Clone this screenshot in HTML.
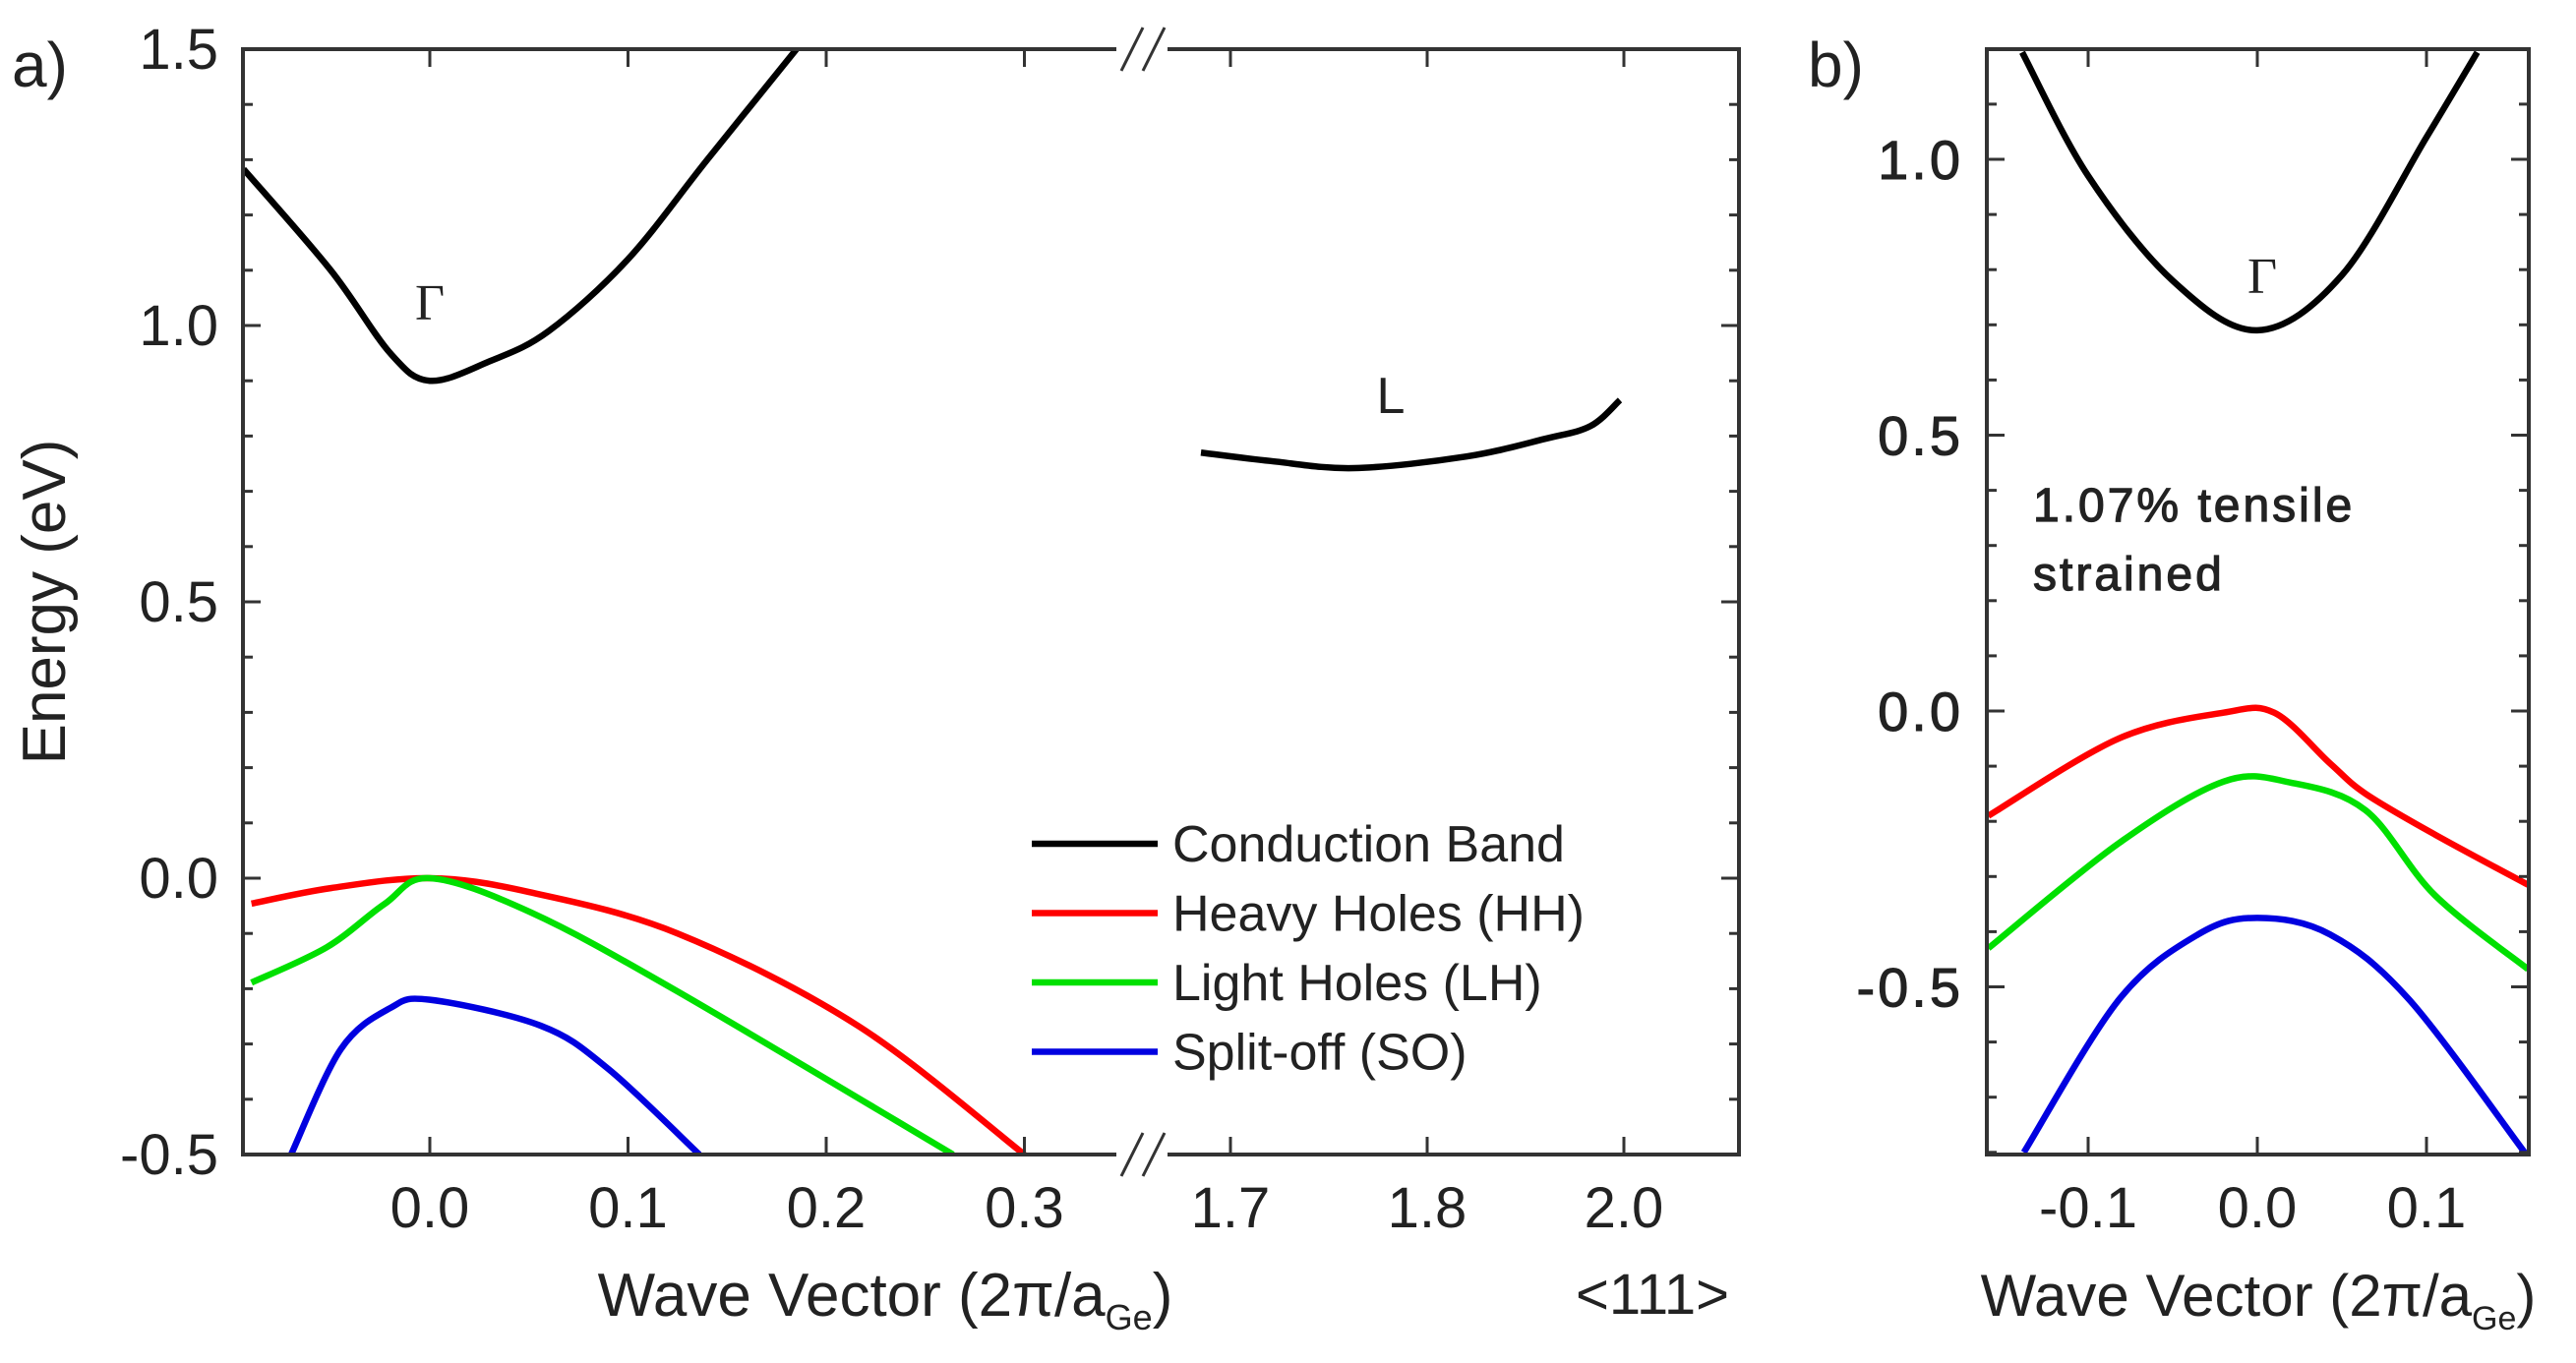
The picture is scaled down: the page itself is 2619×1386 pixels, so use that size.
<!DOCTYPE html>
<html><head><meta charset="utf-8"><style>
html,body{margin:0;padding:0;background:#fff;}
svg{display:block;font-family:"Liberation Sans",sans-serif;}
</style></head><body>
<svg id="chart" width="2619" height="1386" viewBox="0 0 2619 1386" xmlns="http://www.w3.org/2000/svg"></svg>
<script>
// ---- Panel a data ----
const aCB_G_k = [-0.094,-0.05,-0.02,0,0.03,0.06,0.1,0.14,0.185];
const aCB_G_E = [1.283,1.10,0.95,0.90,0.935,0.99,1.12,1.30,1.50];
const aCB_L_k = [1.685,1.72,1.763,1.82,1.86,1.883,1.898];
const aCB_L_E = [0.77,0.755,0.742,0.763,0.795,0.818,0.865];
const aHH_k = [-0.09,-0.05,0,0.05,0.125,0.216,0.30];
const aHH_E = [-0.046,-0.018,0.0,-0.025,-0.10,-0.267,-0.50];
const aLH_k = [-0.09,-0.052,-0.023,0,0.051,0.125,0.264];
const aLH_E = [-0.189,-0.125,-0.047,0.0,-0.062,-0.205,-0.50];
const aSO_k = [-0.07,-0.045,-0.02,0,0.056,0.09,0.136];
const aSO_E = [-0.50,-0.31,-0.235,-0.22,-0.267,-0.345,-0.50];
const aYTicks = [-0.5,0.0,0.5,1.0,1.5];
const aYLabels = ["-0.5","0.0","0.5","1.0","1.5"];
const aX1Ticks = [0.0,0.1,0.2,0.3];
const aX1Labels = ["0.0","0.1","0.2","0.3"];
const aX2Ticks = [1.7,1.8,1.9];
const aX2Labels = ["1.7","1.8","2.0"];
// ---- Panel b data ----
const bCB_k = [-0.139,-0.1,-0.05,0,0.05,0.1,0.13];
const bCB_E = [1.194,0.97,0.78,0.69,0.79,1.04,1.194];
const bHH_k = [-0.159,-0.082,-0.02,0.01,0.043,0.064,0.105,0.16];
const bHH_E = [-0.19,-0.05,-0.003,-0.003,-0.095,-0.15,-0.224,-0.315];
const bLH_k = [-0.159,-0.082,-0.02,0.02,0.064,0.105,0.16];
const bLH_E = [-0.43,-0.24,-0.128,-0.13,-0.18,-0.334,-0.468];
const bSO_k = [-0.138,-0.082,-0.035,0,0.043,0.09,0.158];
const bSO_E = [-0.80,-0.524,-0.405,-0.375,-0.405,-0.524,-0.80];
const bYTicks = [-0.5,0.0,0.5,1.0];
const bYLabels = ["-0.5","0.0","0.5","1.0"];
const bXTicks = [-0.1,0.0,0.1];
const bXLabels = ["-0.1","0.0","0.1"];

const NS="http://www.w3.org/2000/svg";
const svg=document.getElementById('chart');
function mk(tag,attrs,parent){const e=document.createElementNS(NS,tag);for(const k in attrs)e.setAttribute(k,attrs[k]);(parent||svg).appendChild(e);return e;}
function txt(s,attrs,parent){const e=mk('text',attrs,parent);e.textContent=s;return e;}

const aY=E=>50+(1.5-E)*562;
const aX1=k=>437+k*2015;
const aX2=k=>1251+(k-1.7)*2000;
const bY=E=>723-E*561;
const bX=k=>2295+k*1720;
const aL=247,aR=1768,T=50,B=1174,bL=2020,bR=2571;

function curve(ks,Es,xs,ys,color,name,parent){
  const p=ks.map((k,i)=>[xs(k),ys(Es[i])]);
  let d='M'+p[0][0]+' '+p[0][1];
  for(let i=0;i<p.length-1;i++){
    const p0=p[Math.max(i-1,0)],p1=p[i],p2=p[i+1],p3=p[Math.min(i+2,p.length-1)];
    const c1x=p1[0]+(p2[0]-p0[0])/6,c1y=p1[1]+(p2[1]-p0[1])/6;
    const c2x=p2[0]-(p3[0]-p1[0])/6,c2y=p2[1]-(p3[1]-p1[1])/6;
    d+=` C${c1x} ${c1y} ${c2x} ${c2y} ${p2[0]} ${p2[1]}`;
  }
  const e=mk('path',{d:d,fill:'none',stroke:color,'stroke-width':6.5,'stroke-linejoin':'round'},parent);
  
  
}

const defs=mk('defs',{});
const ca=mk('clipPath',{id:'ca'},defs);mk('rect',{x:aL,y:T,width:aR-aL,height:B-T},ca);
const cb=mk('clipPath',{id:'cb'},defs);mk('rect',{x:bL,y:T,width:bR-bL,height:B-T},cb);

// ---- Panel a ----
const ga=mk('g',{'clip-path':'url(#ca)'});


curve(aCB_G_k,aCB_G_E,aX1,aY,'#000','a-conduction-gamma',ga);
curve(aCB_L_k,aCB_L_E,aX2,aY,'#000','a-conduction-l',ga);
curve(aHH_k,aHH_E,aX1,aY,'#ff0000','a-heavy-holes',ga);
curve(aLH_k,aLH_E,aX1,aY,'#00e000','a-light-holes',ga);
curve(aSO_k,aSO_E,aX1,aY,'#0000e0','a-split-off',ga);

const fa=mk('rect',{x:aL,y:T,width:aR-aL,height:B-T,fill:'none',stroke:'#333','stroke-width':4});

mk('rect',{x:1135,y:T-6,width:52,height:12,fill:'#fff'});
mk('rect',{x:1135,y:B-6,width:52,height:12,fill:'#fff'});
[T,B].forEach(y=>{[1140,1162].forEach(x=>{mk('line',{x1:x,y1:y+22,x2:x+22,y2:y-22,stroke:'#333','stroke-width':3});});});
for(let v=-0.5;v<=1.501;v+=0.1){
  const y=aY(v);const maj=Math.abs(v*2-Math.round(v*2))<1e-6;const len=maj?18:10;
  mk('line',{x1:aL,y1:y,x2:aL+len,y2:y,stroke:'#333','stroke-width':3});
  mk('line',{x1:aR,y1:y,x2:aR-len,y2:y,stroke:'#333','stroke-width':3});
}
aYTicks.forEach((v,i)=>{const t=txt(aYLabels[i],{x:222,y:aY(v)+20,'font-size':58,'text-anchor':'end',fill:'#222'});});
function xt(xs,ticks,labels,name,fs){ticks.forEach((v,i)=>{const x=xs(v);
  mk('line',{x1:x,y1:B,x2:x,y2:B-18,stroke:'#333','stroke-width':3});
  mk('line',{x1:x,y1:T,x2:x,y2:T+18,stroke:'#333','stroke-width':3});
  const t=txt(labels[i],{x:x,y:1248,'font-size':fs,'text-anchor':'middle',fill:'#222'});
  });}
xt(aX1,aX1Ticks,aX1Labels,'a-x-tick-label',58);
xt(aX2,aX2Ticks,aX2Labels,'a-x-tick-label',58);
txt('a)',{x:12,y:88,'font-size':64,fill:'#222',});
txt('Energy (eV)',{x:0,y:0,'font-size':62,'text-anchor':'middle',fill:'#222',transform:'translate(66,612) rotate(-90)',});
const xa=txt('',{x:900,y:1338,'font-size':62,'text-anchor':'middle',fill:'#222',});
xa.innerHTML='Wave Vector (2π/a<tspan font-size="36" dy="14">Ge</tspan><tspan dy="-14">)</tspan>';
txt('<111>',{x:1680,y:1336,'font-size':58,'text-anchor':'middle',fill:'#222',});
txt('Γ',{x:437,y:325,'font-size':52,'text-anchor':'middle','font-family':'Liberation Serif',fill:'#222',});
txt('L',{x:1414,y:420,'font-size':52,'text-anchor':'middle',fill:'#222',});
const leg=[['Conduction Band','#000'],['Heavy Holes (HH)','#ff0000'],['Light Holes (LH)','#00e000'],['Split-off (SO)','#0000e0']];
const lg=mk('g',{});
leg.forEach((l,i)=>{const y=858+i*70.5;
  mk('line',{x1:1049,y1:y,x2:1177,y2:y,stroke:l[1],'stroke-width':6.5},lg);
  const t=txt(l[0],{x:1192,y:y+18,'font-size':52,fill:'#222'},lg);
  });

// ---- Panel b ----
const gb=mk('g',{'clip-path':'url(#cb)'});


curve(bCB_k,bCB_E,bX,bY,'#000','b-conduction-gamma',gb);
curve(bHH_k,bHH_E,bX,bY,'#ff0000','b-heavy-holes',gb);
curve(bLH_k,bLH_E,bX,bY,'#00e000','b-light-holes',gb);
curve(bSO_k,bSO_E,bX,bY,'#0000e0','b-split-off',gb);
const fb=mk('rect',{x:bL,y:T,width:bR-bL,height:B-T,fill:'none',stroke:'#333','stroke-width':4});

for(let v=-0.8;v<=1.201;v+=0.1){
  const y=bY(v);const maj=Math.abs(v*2-Math.round(v*2))<1e-6;const len=maj?18:10;
  mk('line',{x1:bL,y1:y,x2:bL+len,y2:y,stroke:'#333','stroke-width':3});
  mk('line',{x1:bR,y1:y,x2:bR-len,y2:y,stroke:'#333','stroke-width':3});
}
bYTicks.forEach((v,i)=>{const t=txt(bYLabels[i],{x:1996,y:bY(v)+20,'font-size':56,'text-anchor':'end',fill:'#222','letter-spacing':3,stroke:'#222','stroke-width':1});});
xt(bX,bXTicks,bXLabels,'b-x-tick-label',58);
txt('b)',{x:1838,y:88,'font-size':64,fill:'#222',});
const xb=txt('',{x:2296,y:1338,'font-size':60,'text-anchor':'middle',fill:'#222',});
xb.innerHTML='Wave Vector (2π/a<tspan font-size="34" dy="14">Ge</tspan><tspan dy="-14">)</tspan>';
txt('Γ',{x:2300,y:298,'font-size':52,'text-anchor':'middle','font-family':'Liberation Serif',fill:'#222',});
txt('1.07% tensile',{x:2067,y:530,'font-size':48,fill:'#222','letter-spacing':3,stroke:'#222','stroke-width':1.2,});
txt('strained',{x:2067,y:600,'font-size':48,fill:'#222','letter-spacing':3,stroke:'#222','stroke-width':1.2,});
</script>
</body></html>
